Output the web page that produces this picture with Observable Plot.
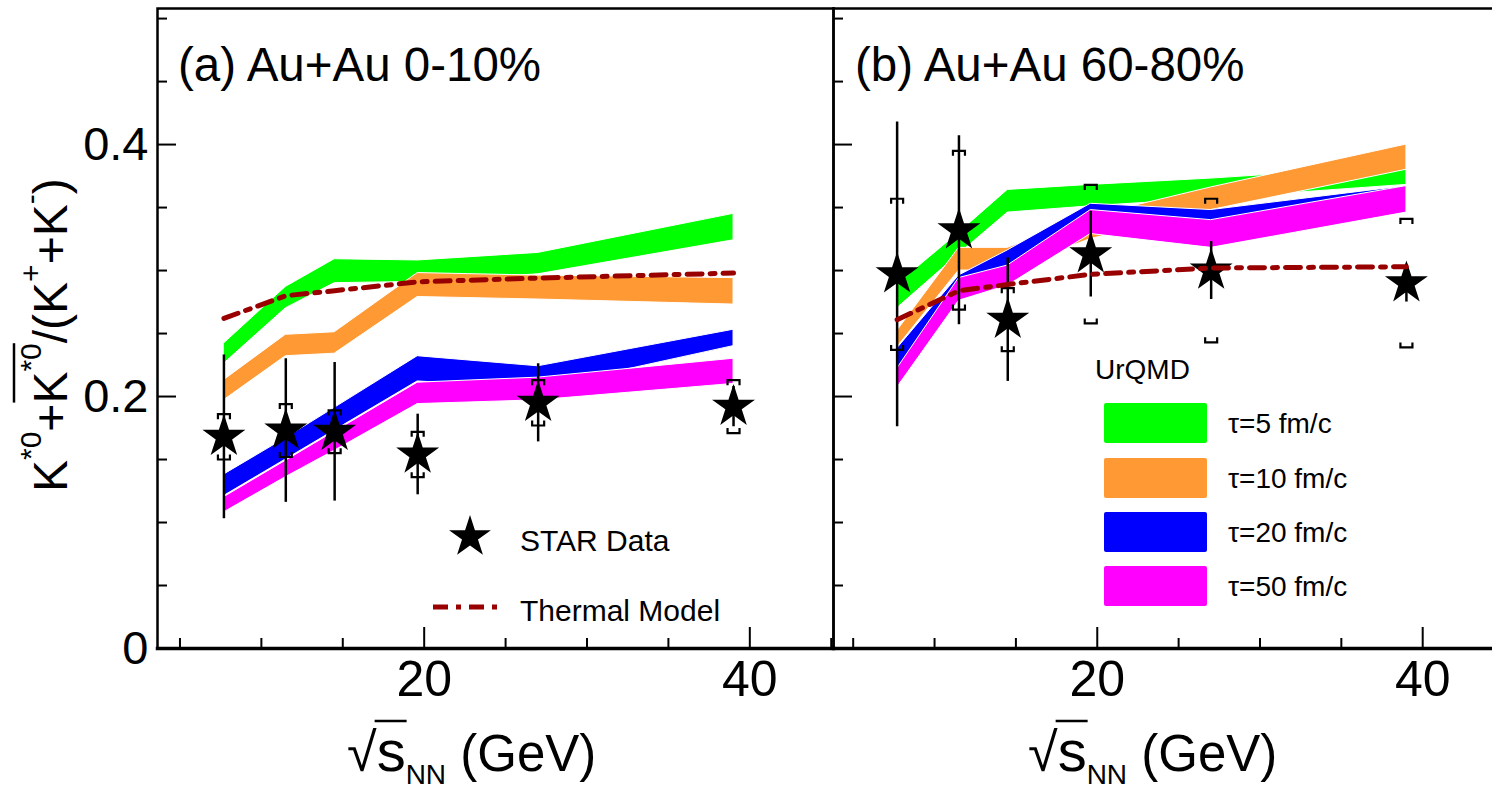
<!DOCTYPE html>
<html><head><meta charset="utf-8">
<script src="https://cdn.jsdelivr.net/npm/d3@7"></script>
<script src="https://cdn.jsdelivr.net/npm/@observablehq/plot@0.6"></script>
<style>
html,body{margin:0;padding:0;background:#fff;overflow:hidden;}
#wrap{position:relative;width:1492px;height:789px;overflow:hidden;background:#fff;}
#wrap svg{position:absolute;top:0;}
</style></head><body><div id="wrap"></div>
<script>
const F = '"Liberation Sans", Arial, Helvetica, sans-serif';

// ---- data ----
const energy = [7.7, 11.5, 14.5, 19.6, 27, 39];

// (a) Au+Au 0-10%
const starA  = [0.168, 0.173, 0.172, 0.154, 0.195, 0.192];
const statA  = [0.065, 0.057, 0.055, 0.032, 0.031, 0.016];
const sysA   = [0.018, 0.021, 0.017, 0.018, 0.018, 0.021];
const thermA = [0.262, 0.280, 0.284, 0.291, 0.294, 0.298];
const tau5A_lo  = [0.226, 0.270, 0.290, 0.291, 0.297, 0.324];
const tau5A_hi  = [0.242, 0.287, 0.309, 0.308, 0.314, 0.345];
const tau10A_lo = [0.197, 0.232, 0.234, 0.279, 0.277, 0.273];
const tau10A_hi = [0.213, 0.249, 0.251, 0.298, 0.296, 0.294];
const tau20A_lo = [0.121, 0.150, 0.173, 0.212, 0.206, 0.240];
const tau20A_hi = [0.138, 0.167, 0.191, 0.232, 0.224, 0.253];
const tau50A_lo = [0.108, 0.136, 0.157, 0.194, 0.197, 0.210];
const tau50A_hi = [0.120, 0.149, 0.172, 0.211, 0.215, 0.230];

// (b) Au+Au 60-80%
const starB  = [0.297, 0.332, 0.261, 0.313, 0.300, 0.290];
const statB  = [0.121, 0.075, 0.049, 0.034, 0.023, 0.015];
const sysB   = [0.060, 0.063, 0.025, 0.055, 0.057, 0.051];
const thermB = [0.261, 0.284, 0.289, 0.297, 0.302, 0.303];
const tau5B_lo  = [0.270, 0.313, 0.346, 0.351, 0.357, 0.368];
const tau5B_hi  = [0.289, 0.330, 0.364, 0.368, 0.373, 0.383];
const tau10B_lo = [0.239, 0.300, 0.300, 0.325, 0.348, 0.380];
const tau10B_hi = [0.252, 0.318, 0.318, 0.343, 0.366, 0.400];
const tau20B_lo = [0.219, 0.280, 0.298, 0.335, 0.331, 0.350];
const tau20B_hi = [0.238, 0.296, 0.316, 0.353, 0.348, 0.367];
const tau50B_lo = [0.207, 0.276, 0.288, 0.329, 0.318, 0.346];
const tau50B_hi = [0.222, 0.294, 0.304, 0.348, 0.340, 0.367];

const tauLabels = ["τ=5 fm/c", "τ=10 fm/c", "τ=20 fm/c", "τ=50 fm/c"];
const tauColors = ["#00ff00", "#ff9933", "#0000ff", "#ff00ff"];
const thermColor = "#990000";

const yMajor = [0, 0.2, 0.4];
const yMinor = [0.05, 0.1, 0.15, 0.25, 0.3, 0.35, 0.45, 0.5];
const xMajor = [20, 40];
const xMinorA = [5, 10, 15, 25, 30, 35, 45];
const xMinorB = [5, 10, 15, 25, 30, 35];

// ---- helpers ----
const bracketTop = {draw(c){ c.moveTo(-6,5); c.lineTo(-6,0); c.lineTo(6,0); c.lineTo(6,5); }};
const bracketBottom = {draw(c){ c.moveTo(-6,-5); c.lineTo(-6,0); c.lineTo(6,0); c.lineTo(6,-5); }};

function panel({width, marginLeft, domain, star, stat, sys, therm, bands, minorX, yLabels, frames}) {
  const starRows = energy.map((e, i) => ({e, v: star[i], stat: stat[i], sys: sys[i]}));
  const thermRows = energy.map((e, i) => ({e, v: therm[i]}));
  const marks = [];
  bands.forEach((b, k) => {
    const rows = energy.map((e, i) => ({e, lo: b[0][i], hi: b[1][i]}));
    marks.push(Plot.areaY(rows, {x: "e", y1: "lo", y2: "hi", fill: tauColors[k], stroke: "white", strokeWidth: 1}));
  });
  marks.push(Plot.ruleX(starRows, {x: "e", y1: d => d.v - d.stat, y2: d => d.v + d.stat, stroke: "black", strokeWidth: 2.5}));
  marks.push(Plot.dot(starRows, {x: "e", y: d => d.v + d.sys, symbol: bracketTop, fill: "none", stroke: "black", strokeWidth: 2.2}));
  marks.push(Plot.dot(starRows, {x: "e", y: d => d.v - d.sys, symbol: bracketBottom, fill: "none", stroke: "black", strokeWidth: 2.2}));
  marks.push(Plot.dot(starRows, {x: "e", y: "v", symbol: "star", r: 13.5, fill: "black", stroke: "none"}));
  marks.push(Plot.line(thermRows, {x: "e", y: "v", stroke: thermColor, strokeWidth: 5, strokeDasharray: "15,8,5,8"}));
  // axes (inward ticks)
  marks.push(Plot.axisY({ticks: yMajor, tickSize: -19, fill: "none", strokeWidth: 2, label: null}));
  marks.push(Plot.axisY({ticks: yMinor, tickSize: -10, fill: "none", strokeWidth: 2, label: null}));
  if (yLabels) marks.push(Plot.axisY({ticks: yMajor, tickSize: 0, tickPadding: 9, fontSize: 47,
    tickFormat: d => d === 0 ? "0" : d3.format(".1f")(d), label: null}));
  marks.push(Plot.axisX({ticks: xMajor, tickSize: -21, fill: "none", strokeWidth: 2, label: null}));
  marks.push(Plot.axisX({ticks: minorX, tickSize: -10, fill: "none", strokeWidth: 2, label: null}));
  marks.push(Plot.axisX({ticks: xMajor, tickSize: 0, tickPadding: 12, fontSize: 50, label: null}));
  frames.forEach(a => marks.push(a === "all"
    ? Plot.frame({stroke: "black", strokeWidth: 2.5})
    : Plot.frame({anchor: a, stroke: "black", strokeWidth: a === "bottom" ? 3.5 : 2.5})));
  return Plot.plot({
    width, height: 789,
    marginLeft, marginRight: 0, marginTop: 8, marginBottom: 141,
    x: {domain, label: null},
    y: {domain: [0, 0.508], label: null},
    style: {fontFamily: F, color: "black", background: "transparent", overflow: "visible"},
    marks
  });
}

const wrap = document.getElementById("wrap");
const svgA = panel({
  width: 833, marginLeft: 157, domain: [3.62, 45.14],
  star: starA, stat: statA, sys: sysA, therm: thermA,
  bands: [[tau5A_lo, tau5A_hi], [tau10A_lo, tau10A_hi], [tau20A_lo, tau20A_hi], [tau50A_lo, tau50A_hi]],
  minorX: xMinorA, yLabels: true, frames: ["all", "bottom"]
});
const svgB = panel({
  width: 659, marginLeft: 0, domain: [3.79, 44.29],
  star: starB, stat: statB, sys: sysB, therm: thermB,
  bands: [[tau5B_lo, tau5B_hi], [tau10B_lo, tau10B_hi], [tau20B_lo, tau20B_hi], [tau50B_lo, tau50B_hi]],
  minorX: xMinorB, yLabels: false, frames: ["top", "left", "bottom"]
});
svgA.style.left = "0px";
svgB.style.left = "833px";
wrap.appendChild(svgA);
wrap.appendChild(svgB);

const A = d3.select(svgA), B = d3.select(svgB);
function txt(sel, x, y, size) {
  return sel.append("text").attr("x", x).attr("y", y).attr("font-size", size)
    .attr("font-family", F).attr("text-anchor", "start").attr("fill", "black");
}

// titles
txt(A, 178, 81, 47.5).text("(a) Au+Au 0-10%");
txt(B, 22, 81, 47.5).text("(b) Au+Au 60-80%");

// y-axis title
{
  const g = A.append("g").attr("transform", "translate(67,492) rotate(-90)");
  const t = txt(g, 0, 0, 48);
  const parts = [["K", 0], ["*0", 1], ["+", 0], ["K", 0], ["*0", 1], ["/(K", 0], ["+", 1], ["+K", 0], ["-", 1], [")", 0]];
  let up = false;
  for (const [s, sup] of parts) {
    const ts = t.append("tspan").text(s);
    if (sup) { ts.attr("font-size", 30).attr("dy", up ? 0 : -26); up = true; }
    else { ts.attr("dy", up ? 26 : 0); up = false; }
  }
  const n = t.node();
  const x1 = n.getStartPositionOfChar(4).x, x2 = n.getEndPositionOfChar(6).x;
  g.append("line").attr("x1", x1 + 1).attr("x2", x2).attr("y1", -53).attr("y2", -53).attr("stroke", "black").attr("stroke-width", 2.5);
}

// x-axis titles
function xTitle(sel, x) {
  const t = txt(sel, x, 771, 51);
  t.append("tspan").attr("font-size", 54).text("√");
  t.append("tspan").attr("font-size", 58).text("s");
  t.append("tspan").attr("font-size", 28).attr("dy", 13).text("NN");
  t.append("tspan").attr("dy", -13).text(" (GeV)");
  const n = t.node();
  const a = n.getEndPositionOfChar(0).x, b = n.getEndPositionOfChar(1).x;
  sel.append("line").attr("x1", a - 2).attr("x2", b + 1).attr("y1", 721).attr("y2", 721).attr("stroke", "black").attr("stroke-width", 2.5);
}
xTitle(A, 347);
xTitle(B, 1028 - 833);

// legend (a)
A.append("path").attr("d", d3.symbol(d3.symbolStar, 543)()).attr("transform", "translate(470,537)").attr("fill", "black");
txt(A, 520, 551, 30).text("STAR Data");
A.append("line").attr("x1", 433).attr("x2", 505).attr("y1", 607).attr("y2", 607)
  .attr("stroke", thermColor).attr("stroke-width", 5).attr("stroke-dasharray", "15,8,5,8");
txt(A, 520, 621, 30).text("Thermal Model");

// legend (b)
txt(B, 262, 379, 28).text("UrQMD");
const boxY = [403, 458, 512, 566];
tauLabels.forEach((lab, k) => {
  B.append("rect").attr("x", 271).attr("y", boxY[k]).attr("width", 103).attr("height", 40).attr("rx", 2).attr("fill", tauColors[k]);
  txt(B, 395, boxY[k] + 30, 28).text(lab);
});
</script>
</body></html>
